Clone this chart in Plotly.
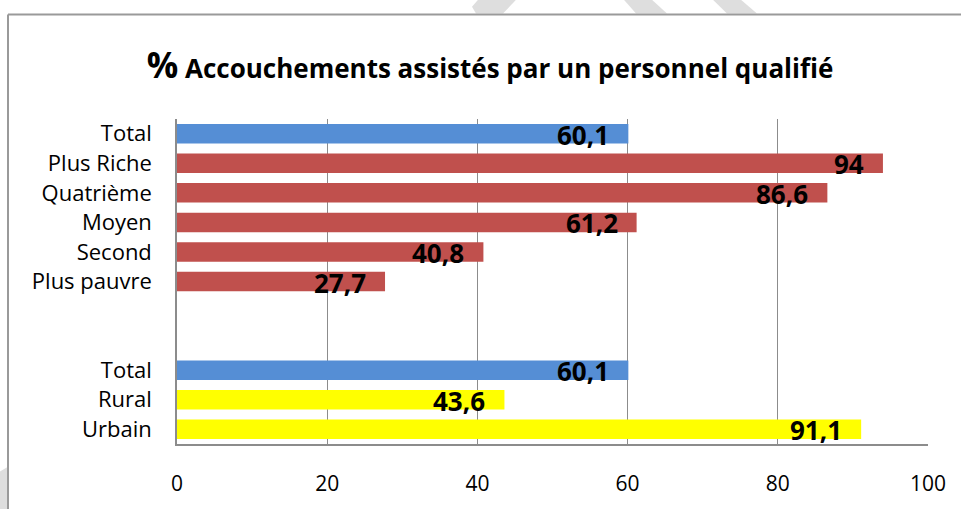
import plotly.graph_objects as go

# ---- data ----
total_label = "Total"
total_value = 60.1
quintile_labels = ["Plus Riche", "Quatrième", "Moyen", "Second", "Plus pauvre"]
quintile_values = [94, 86.6, 61.2, 40.8, 27.7]
milieu_labels = ["Rural", "Urbain"]
milieu_values = [43.6, 91.1]
x_ticks = [0, 20, 40, 60, 80, 100]

# colours
c_total = "#558ED5"
c_quint = "#C0504D"
c_milieu = "#FFFF00"

# ---- build rows (top to bottom), with two empty spacer rows ----
rows = []  # (label, value, color)
rows.append((total_label, total_value, c_total))
for l, v in zip(quintile_labels, quintile_values):
    rows.append((l, v, c_quint))
rows.append(("", None, c_quint))
rows.append(("", None, c_quint))
rows.append((total_label, total_value, c_total))
for l, v in zip(milieu_labels, milieu_values):
    rows.append((l, v, c_milieu))

pos = list(range(len(rows)))
labels = [r[0] for r in rows]
vals = [r[1] for r in rows]
cols = [r[2] for r in rows]

fig = go.Figure()
fig.add_trace(go.Bar(
    y=pos, x=vals, orientation="h",
    marker=dict(color=cols, line=dict(width=0)),
    width=0.66, hoverinfo="skip", showlegend=False,
))

fmt = lambda v: (f"{v:g}").replace(".", ",")
for p, v in zip(pos, vals):
    if v is None:
        continue
    fig.add_annotation(
        x=v, y=p, xref="x", yref="y", text=fmt(v), showarrow=False,
        xanchor="right", yanchor="middle", xshift=-17, yshift=-1,
        font=dict(family="Open Sans", size=26, color="#000000", weight="bold"),
    )

# ---- decorative frame & faint watermark pieces (pixel -> paper) ----
L, R, T, B = 177, 928, 119, 449
def px(x):
    return (x - L) / (R - L)
def py(y):
    return (B - y) / (B - T)

shapes = []
wm = "#DEDEDE"
def poly(points):
    d = "M " + " L ".join(f"{px(a):.5f},{py(b):.5f}" for a, b in points) + " Z"
    return dict(type="path", xref="paper", yref="paper", path=d,
                fillcolor=wm, line=dict(width=0), layer="below")
shapes.append(poly([(478, -2), (516, -2), (503, 12), (476, 12), (472, 5)]))
shapes.append(poly([(624, -2), (652, -2), (667, 12), (636, 12)]))
shapes.append(poly([(713, -2), (741, -2), (757, 12), (727, 12)]))
shapes.append(poly([(-2, 478), (8, 472), (8, 520), (-2, 520)]))
# chart border (top and left)
shapes.append(dict(type="line", xref="paper", yref="paper",
                   x0=px(8), x1=px(975), y0=py(13), y1=py(13),
                   line=dict(color="#9A9A9A", width=2)))
shapes.append(dict(type="line", xref="paper", yref="paper",
                   x0=px(8), x1=px(8), y0=py(13), y1=py(520),
                   line=dict(color="#9A9A9A", width=2)))

fig.update_layout(
    width=961, height=509,
    margin=dict(l=L, r=961 - R, t=T, b=509 - B),
    paper_bgcolor="white", plot_bgcolor="white",
    shapes=shapes,
    title=dict(
        text="<span style='font-size:35px'>%</span> Accouchements assistés par un personnel qualifié",
        x=490 / 961, xanchor="center", xref="container",
        y=1 - 69 / 509, yanchor="middle", yref="container",
        font=dict(family="Open Sans", size=26, color="#000000", weight="bold"),
    ),
    bargap=0.34,
)
fig.update_xaxes(
    range=[0, 100], tickvals=x_ticks, ticktext=[str(t) for t in x_ticks],
    showgrid=True, gridcolor="#8C8C8C", gridwidth=1,
    showline=True, linecolor="#8C8C8C", linewidth=1.5, mirror=False,
    zeroline=False, ticks="", ticklabelstandoff=20,
    tickfont=dict(family="Open Sans", size=21, color="#000000"),
    fixedrange=True,
)
fig.update_yaxes(
    range=[len(rows) - 0.5, -0.5], tickvals=pos, ticktext=labels,
    showgrid=False, showline=True, linecolor="#8C8C8C", linewidth=1.5,
    zeroline=False, ticks="", ticklabelstandoff=19,
    tickfont=dict(family="Open Sans", size=22, color="#000000"),
    fixedrange=True,
)

fig.write_html(
    "out.html",
    config={"displayModeBar": False},
    post_script="document.body.style.margin='0';document.body.style.overflow='hidden';",
)
